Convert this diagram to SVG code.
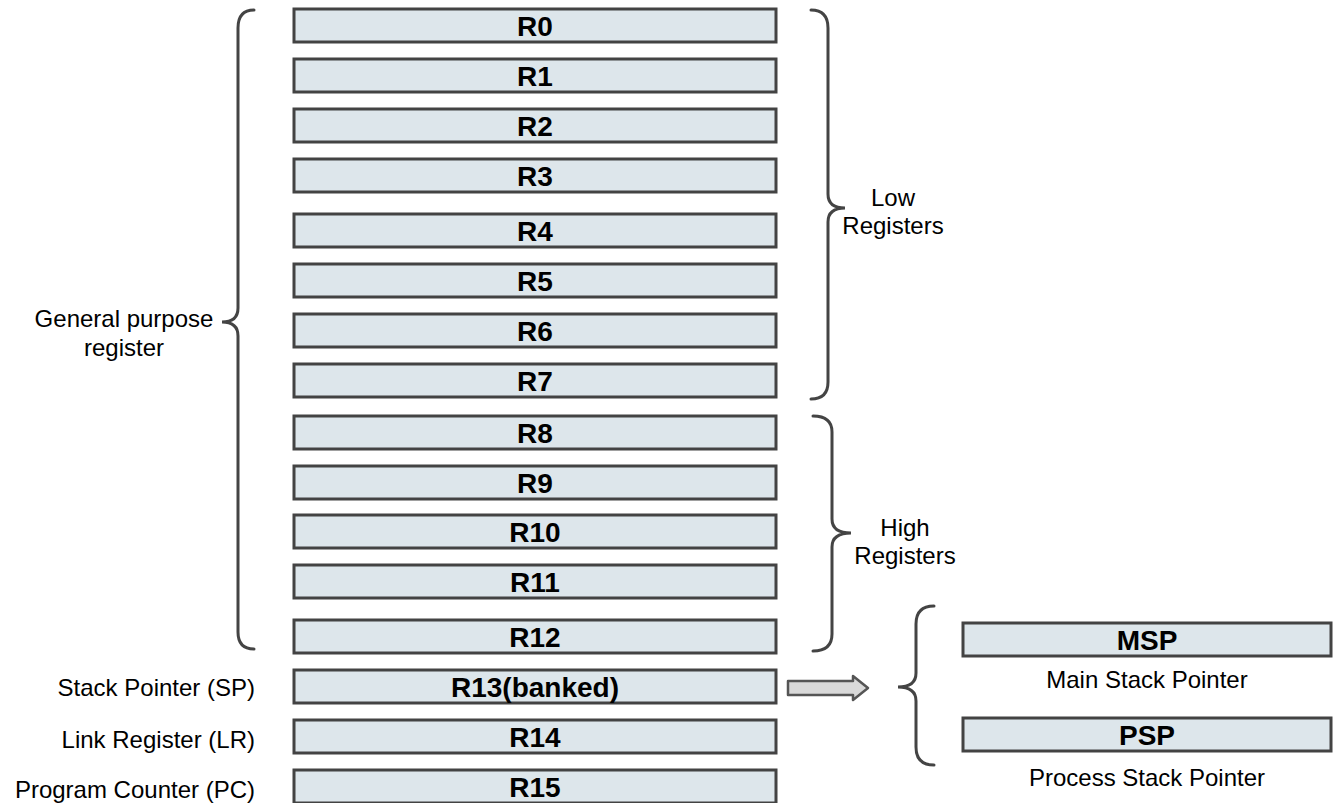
<svg xmlns="http://www.w3.org/2000/svg" width="1335" height="803" viewBox="0 0 1335 803">
<style>
.reg{fill:#dde6eb;stroke:#434343;stroke-width:3}
.rl{font-family:"Liberation Sans",Arial,sans-serif;font-weight:bold;font-size:28px;fill:#000;text-anchor:middle}
.lb{font-family:"Liberation Sans",Arial,sans-serif;font-size:24px;fill:#000}
.br{fill:none;stroke:#444;stroke-width:3;stroke-linecap:round}
</style>
<rect width="1335" height="803" fill="#fff"/>
<g id="R0"><rect class="reg" x="294" y="9" width="482" height="33"/><text class="rl" x="535" y="36">R0</text></g>
<g id="R1"><rect class="reg" x="294" y="59" width="482" height="33"/><text class="rl" x="535" y="86">R1</text></g>
<g id="R2"><rect class="reg" x="294" y="109" width="482" height="33"/><text class="rl" x="535" y="136">R2</text></g>
<g id="R3"><rect class="reg" x="294" y="159" width="482" height="33"/><text class="rl" x="535" y="186">R3</text></g>
<g id="R4"><rect class="reg" x="294" y="214" width="482" height="33"/><text class="rl" x="535" y="241">R4</text></g>
<g id="R5"><rect class="reg" x="294" y="264" width="482" height="33"/><text class="rl" x="535" y="291">R5</text></g>
<g id="R6"><rect class="reg" x="294" y="314" width="482" height="33"/><text class="rl" x="535" y="341">R6</text></g>
<g id="R7"><rect class="reg" x="294" y="364" width="482" height="33"/><text class="rl" x="535" y="391">R7</text></g>
<g id="R8"><rect class="reg" x="294" y="416" width="482" height="33"/><text class="rl" x="535" y="443">R8</text></g>
<g id="R9"><rect class="reg" x="294" y="466" width="482" height="33"/><text class="rl" x="535" y="493">R9</text></g>
<g id="R10"><rect class="reg" x="294" y="515" width="482" height="33"/><text class="rl" x="535" y="542">R10</text></g>
<g id="R11"><rect class="reg" x="294" y="565" width="482" height="33"/><text class="rl" x="535" y="592">R11</text></g>
<g id="R12"><rect class="reg" x="294" y="620" width="482" height="33"/><text class="rl" x="535" y="647">R12</text></g>
<g id="R13"><rect class="reg" x="294" y="670" width="482" height="33"/><text class="rl" x="535" y="697">R13(banked)</text></g>
<g id="R14"><rect class="reg" x="294" y="720" width="482" height="33"/><text class="rl" x="535" y="747">R14</text></g>
<g id="R15"><rect class="reg" x="294" y="770" width="482" height="33"/><text class="rl" x="535" y="797">R15</text></g>
<g id="MSP"><rect class="reg" x="963" y="623" width="368" height="33"/><text class="rl" x="1147" y="650">MSP</text></g>
<g id="PSP"><rect class="reg" x="963" y="718" width="368" height="33"/><text class="rl" x="1147" y="745">PSP</text></g>
<g id="labels">
<text class="lb" x="124" y="327" text-anchor="middle">General purpose</text>
<text class="lb" x="124" y="356" text-anchor="middle">register</text>
<text class="lb" x="893" y="206" text-anchor="middle">Low</text>
<text class="lb" x="893" y="234" text-anchor="middle">Registers</text>
<text class="lb" x="905" y="536" text-anchor="middle">High</text>
<text class="lb" x="905" y="564" text-anchor="middle">Registers</text>
<text class="lb" x="255" y="696" text-anchor="end">Stack Pointer (SP)</text>
<text class="lb" x="255" y="748" text-anchor="end">Link Register (LR)</text>
<text class="lb" x="255" y="798" text-anchor="end">Program Counter (PC)</text>
<text class="lb" x="1147" y="688" text-anchor="middle">Main Stack Pointer</text>
<text class="lb" x="1147" y="786" text-anchor="middle">Process Stack Pointer</text>
</g>
<g id="connectors">
<path class="br" d="M254,10 Q238,10 238,28 L238,308 Q238,322 222,322 Q238,322 238,336 L238,632 Q238,649 254,649"/>
<path class="br" d="M811,10 Q828,10 828,28 L828,194 Q828,208 845,208 Q828,208 828,222 L828,382 Q828,399 811,399"/>
<path class="br" d="M813,416 Q832,416 832,432 L832,519 Q832,533 851,533 Q832,533 832,547 L832,634 Q832,651 813,651"/>
<path class="br" d="M934,606 Q916,606 916,624 L916,673 Q916,687 898,687 Q916,687 916,701 L916,747 Q916,765 934,765"/>
<path d="M788,681 L853,681 L853,676 L868,688 L853,700 L853,695 L788,695 Z" fill="#d9d9d9" stroke="#555" stroke-width="2.5" stroke-linejoin="round"/>
</g>
</svg>
